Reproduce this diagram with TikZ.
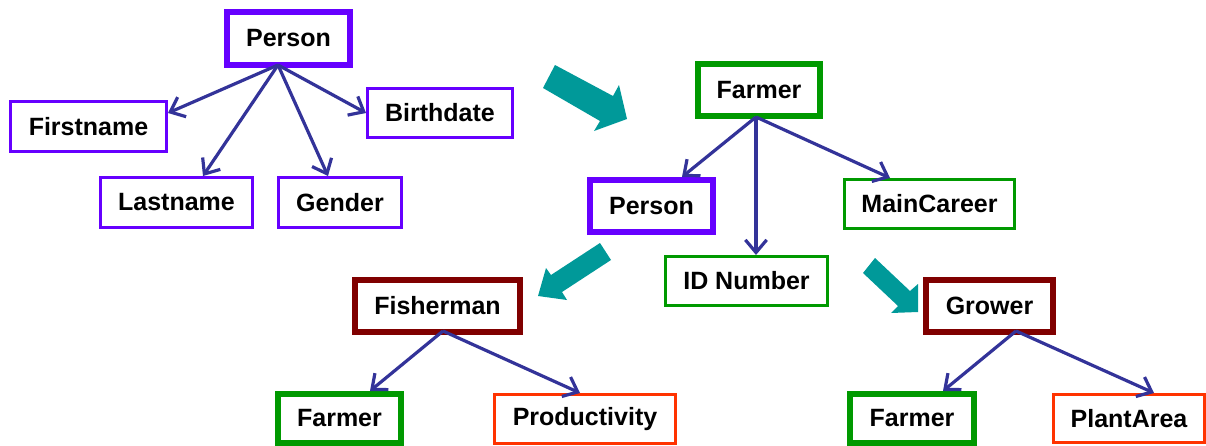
\documentclass[tikz,border=0pt]{standalone}
\usepackage{fontspec}
\setmainfont{Liberation Sans}
\usetikzlibrary{arrows.meta}
\newlength\px
\setlength\px{0.75pt}
\definecolor{pviolet}{HTML}{6600FF}
\definecolor{fgreen}{HTML}{009900}
\definecolor{mroon}{HTML}{800000}
\definecolor{orred}{HTML}{FF3300}
\definecolor{linkblue}{HTML}{333399}
\definecolor{tealarrow}{HTML}{009999}
\begin{document}
\begin{tikzpicture}[x=0.75pt, y=-0.75pt,
  box/.style={draw, rectangle, inner sep=0pt, text=black,
    font=\fontsize{18.75}{22}\selectfont\bfseries},
  thickbox/.style={box, line width=6\px},
  thinbox/.style={box, line width=3\px},
  link/.style={draw=linkblue, line width=2.4pt,
    -{Straight Barb[length=9.5pt,width=16pt,line width=2.4pt]}},
  bigarrow/.style={fill=tealarrow}]
\useasboundingbox (0,0) rectangle (1206,446);

% Person and its attributes
\node[thickbox, draw=pviolet, minimum width=123\px, minimum height=53\px] (personA) at (288.5,38.5) {Person};
\node[thinbox, draw=pviolet, minimum width=156\px, minimum height=50\px] (first) at (88.5,126.5) {Firstname};
\node[thinbox, draw=pviolet, minimum width=145\px, minimum height=49\px] (birth) at (440,113) {Birthdate};
\node[thinbox, draw=pviolet, minimum width=152\px, minimum height=50\px] (last) at (176.5,202.5) {Lastname};
\node[thinbox, draw=pviolet, minimum width=123\px, minimum height=50\px] (gender) at (340,202.5) {Gender};

% Farmer
\node[thickbox, draw=fgreen, minimum width=122\px, minimum height=52\px] (farmerA) at (759,90) {Farmer};
\node[thickbox, draw=pviolet, minimum width=123\px, minimum height=52\px] (personB) at (651.5,206) {Person};
\node[thinbox, draw=fgreen, minimum width=170\px, minimum height=49\px] (career) at (929.5,204) {MainCareer};
\node[thinbox, draw=fgreen, minimum width=162\px, minimum height=49\px] (idnum) at (746.5,281) {ID Number};

% Fisherman and Grower
\node[thickbox, draw=mroon, minimum width=165\px, minimum height=52\px] (fisher) at (437.5,306) {Fisherman};
\node[thickbox, draw=mroon, minimum width=127\px, minimum height=52\px] (grower) at (989.5,306) {Grower};
\node[thickbox, draw=fgreen, minimum width=123\px, minimum height=49\px] (farmerB) at (339.5,418.5) {Farmer};
\node[thinbox, draw=orred, minimum width=181\px, minimum height=49\px] (prod) at (585,419) {Productivity};
\node[thickbox, draw=fgreen, minimum width=124\px, minimum height=49\px] (farmerC) at (912,418.5) {Farmer};
\node[thinbox, draw=orred, minimum width=151\px, minimum height=48\px] (plant) at (1129,418.5) {PlantArea};

% fan-out points under the parent boxes
\coordinate (pa) at ([xshift=-7.875pt,yshift=2.25pt]personA.south);
\coordinate (fa) at ([xshift=-2.25pt,yshift=1.5pt]farmerA.south);
\coordinate (fi) at ([xshift=4.125pt,yshift=3pt]fisher.south);
\coordinate (gr) at ([xshift=19.875pt,yshift=3pt]grower.south);

\draw[link] (pa) -- ([yshift=10.125pt]first.east);
\draw[link] (pa) -- ([xshift=19.875pt]last.north);
\draw[link] (pa) -- ([xshift=-9pt]gender.north);
\draw[link] (pa) -- (birth.west);

\draw[link] (fa) -- ([xshift=22.875pt]personB.north);
\draw[link] (fa) -- ([xshift=7.125pt]idnum.north);
\draw[link] (fa) -- ([xshift=-29.625pt]career.north);

\draw[link] (fi) -- ([xshift=22.875pt]farmerB.north);
\draw[link] (fi) -- ([xshift=-3.75pt]prod.north);
\draw[link] (gr) -- ([xshift=23.25pt]farmerC.north);
\draw[link] (gr) -- ([xshift=18.75pt]plant.north);

% block arrows
\fill[bigarrow] (555,65) -- (613,96) -- (619,85) -- (627,119) -- (594,131) -- (600,121) -- (543,88) -- cycle;
\fill[bigarrow] (600,243) -- (551,275) -- (546,268) -- (538,296) -- (567,300) -- (562,292) -- (611,260) -- cycle;
\fill[bigarrow] (875,258) -- (910,291) -- (918,284) -- (918,312) -- (891,313) -- (898,306) -- (863,273) -- cycle;
\end{tikzpicture}
\end{document}
